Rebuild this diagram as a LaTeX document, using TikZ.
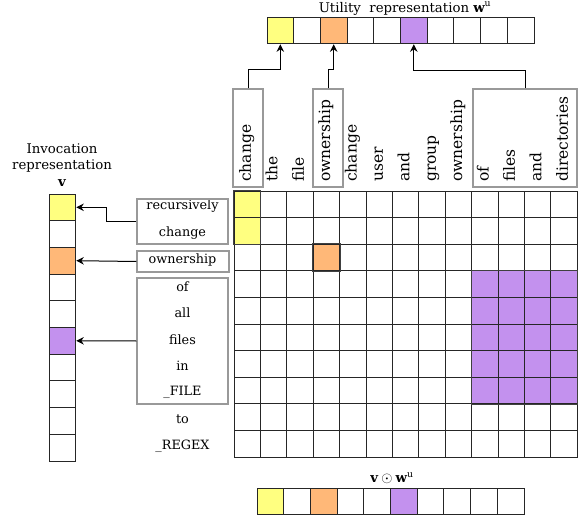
\documentclass[tikz,border=0pt]{standalone}
\usepackage{fontspec}
\setmainfont{DejaVu Serif}
\usetikzlibrary{arrows.meta, backgrounds}

\tikzstyle{vec-cell}=[draw=black!85, line width=0.9pt, minimum width=26.7pt, minimum height=26.7pt, inner sep=0pt]
\tikzstyle{grid-cell}=[draw=black!85, line width=0.9pt, minimum width=26.4pt, minimum height=26.6pt, inner sep=0pt]
\tikzstyle{hl-block}=[draw=black!75, line width=1.1pt]
\tikzstyle{word-box}=[draw=black!40, line width=1.1pt, inner sep=0pt]
\tikzstyle{col-word}=[rotate=90, anchor=west, inner sep=2pt, text height=11pt, text depth=3.5pt, font=\fontsize{15.5}{17}\selectfont]
\tikzstyle{row-word}=[inner sep=1pt, font=\fontsize{12.8}{14}\selectfont]
\tikzstyle{title}=[inner sep=0pt, font=\fontsize{13.3}{16.5}\selectfont]
\tikzstyle{pointer}=[-{Stealth[length=7.5pt,width=7.5pt]}, line width=1pt]
\definecolor{hlyellow}{HTML}{FFFF80}
\definecolor{hlorange}{HTML}{FFB878}
\definecolor{hlpurple}{HTML}{C391EE}

\begin{document}
\begin{tikzpicture}[x=1pt, y=-1pt]
      \useasboundingbox (0, 0) rectangle (579, 519);

      % utility vector on top
      \node (u-title) at (405, 8.5) [title] {Utility\ \ representation $\mathbf{w}^{\mathrm{u}}$};
      \foreach \i/\col in {0/hlyellow, 1/white, 2/hlorange, 3/white, 4/white,
                           5/hlpurple, 6/white, 7/white, 8/white, 9/white}
            \node (u-\i) at ({280.3+26.7*\i}, 30.5) [vec-cell, fill=\col] {};

      % invocation vector on the left
      \node (v-title) at (62, 158) [title, align=center] {Invocation\\representation};
      \node (v-name) at (62, 183) [title] {$\mathbf{v}$};
      \foreach \i/\col in {0/hlyellow, 1/white, 2/hlorange, 3/white, 4/white,
                           5/hlpurple, 6/white, 7/white, 8/white, 9/white}
            \node (v-\i) at (62.5, {207.3+26.7*\i}) [vec-cell, fill=\col] {};

      % product vector at the bottom
      \node (p-title) at (392, 478) [title] {$\mathbf{v}\odot\mathbf{w}^{\mathrm{u}}$};
      \foreach \i/\col in {0/hlyellow, 1/white, 2/hlorange, 3/white, 4/white,
                           5/hlpurple, 6/white, 7/white, 8/white, 9/white}
            \node (p-\i) at ({270.3+26.7*\i}, 501.5) [vec-cell, fill=\col] {};

      % alignment grid
      \foreach \r in {0,...,9}
            \foreach \c in {0,...,12}
                  \node (g-\r-\c) at ({247.2+26.4*\c}, {204.3+26.6*\r}) [grid-cell] {};
      \begin{pgfonlayer}{background}
            \fill[hlyellow] (g-0-0.north west) rectangle (g-1-0.south east);
            \fill[hlorange] (g-2-3.north west) rectangle (g-2-3.south east);
            \fill[hlpurple] (g-3-9.north west) rectangle (g-7-12.south east);
      \end{pgfonlayer}
      \draw[hl-block] (g-0-0.north west) rectangle (g-1-0.south east);
      \draw[hl-block] (g-2-3.north west) rectangle (g-2-3.south east);
      \draw[hl-block] (g-3-9.north west) rectangle (g-7-12.south east);

      % utility words
      \foreach \w [count=\c from 0] in {change, the, file, ownership, change, user, and,
                                        group, ownership, of, files, and, directories}
            \node (c-\c) at ({247.2+26.4*\c}, 184) [col-word] {\w};
      \node (chg-box) at (248, 138) [word-box, minimum width=30pt, minimum height=98pt] {};
      \node (own-box) at (328, 138) [word-box, minimum width=30pt, minimum height=98pt] {};
      \node (dir-box) at (525, 138) [word-box, minimum width=104pt, minimum height=98pt] {};

      % invocation words
      \foreach \w [count=\r from 0] in {recursively, change, ownership, of, all, files,
                                        in, \_FILE, to, \_REGEX}
            \node (r-\r) at (182.5, {206.5+26.6*\r}) [row-word] {\w};
      \node (rec-box) at (182.5, 221.5) [word-box, minimum width=91pt, minimum height=45pt] {};
      \node (ownr-box) at (183, 261.5) [word-box, minimum width=92pt, minimum height=21pt] {};
      \node (file-box) at (182.5, 341) [word-box, minimum width=91pt, minimum height=126pt] {};

      % pointers
      \draw[pointer] (chg-box.north) -- ++(0, -19) -| (u-0.south);
      \draw[pointer] (own-box.north) -- ++(0, -19) -| (u-2.south);
      \draw[pointer] (dir-box.north) -- ++(0, -18) -| (u-5.south);
      \draw[pointer] (rec-box.west) -- ++(-30, 0) |- (v-0.east);
      \draw[pointer] (ownr-box.west) -- (v-2.east);
      \draw[pointer] (file-box.west) -- (v-5.east);
\end{tikzpicture}
\end{document}
